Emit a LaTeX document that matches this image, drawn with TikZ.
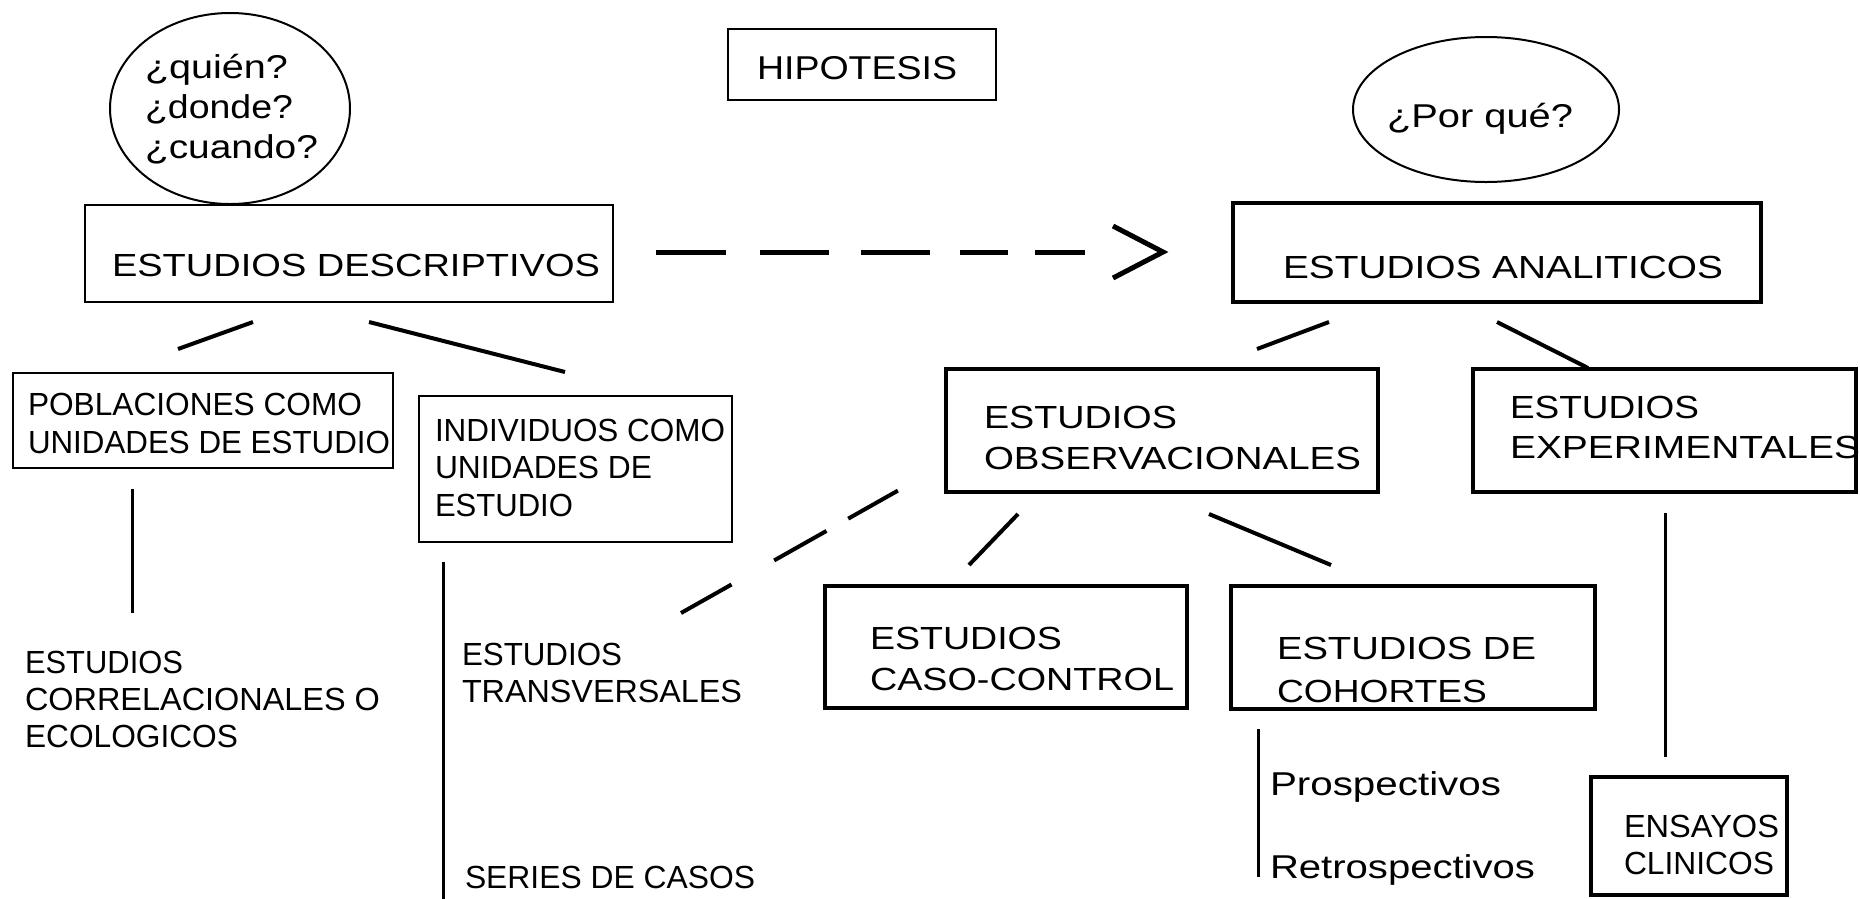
\documentclass[tikz,border=0pt]{standalone}
\usepackage{fontspec}
\setmainfont{Liberation Sans}
\usetikzlibrary{shapes.geometric}
\newcommand\fw[2]{\resizebox{#1pt}{\height}{#2}}
\newcommand\lyne[2]{\hbox{\fw{#1}{#2}}}
\newcommand\blk[2]{\vtop{\baselineskip=#1pt\lineskiplimit=-1000pt\lineskip=0pt #2}}
\begin{document}
\begin{tikzpicture}[x=1pt,y=-1pt,
  thinbox/.style={draw, line width=2.5pt, inner sep=0pt},
  thickbox/.style={draw, line width=4pt, inner sep=0pt},
  oval/.style={ellipse, draw, line width=2pt, inner sep=0pt},
  txt/.style={anchor=base west, inner sep=0pt, outer sep=0pt},
  fa/.style={font=\fontsize{32}{38}\selectfont},
  fb/.style={font=\fontsize{33}{40}\selectfont},
  link/.style={line width=4pt},
  stem/.style={line width=3pt}]
\fill[white] (0,0) rectangle (1860,898);
\useasboundingbox (0,0) rectangle (1860,898);

% ---- shapes
\node[oval, minimum width=240pt, minimum height=191pt] (e1) at (230,108.5) {};
\node[oval, minimum width=266pt, minimum height=145pt] (e2) at (1486,109.5) {};
\node[thinbox, minimum width=268pt, minimum height=71pt] (hip) at (862,64.5) {};
\node[thinbox, minimum width=528pt, minimum height=97pt] (desc) at (349,253.5) {};
\node[thickbox, minimum width=528pt, minimum height=99pt] (anal) at (1497,252.5) {};
\node[thinbox, minimum width=380pt, minimum height=95pt] (pobl) at (203,420.5) {};
\node[thinbox, minimum width=313pt, minimum height=146pt] (indiv) at (575.5,469) {};
\node[thickbox, minimum width=432pt, minimum height=123pt] (obs) at (1162,430.5) {};
\node[thickbox, minimum width=383pt, minimum height=123pt] (exp) at (1664.5,430.5) {};
\node[thickbox, minimum width=362pt, minimum height=122pt] (caso) at (1006,647) {};
\node[thickbox, minimum width=364pt, minimum height=123pt] (coh) at (1413,647.5) {};
\node[thickbox, minimum width=196pt, minimum height=118pt] (ens) at (1689,836) {};

% ---- texts
\node[txt, fb] (t-e1) at (145,78) {\blk{40}{\lyne{143}{¿quién?}\lyne{148}{¿donde?}\lyne{173}{¿cuando?}}};
\node[txt, fb] (t-e2) at (1387,127) {\fw{186}{¿Por qué?}};
\node[txt, fb] (t-hip) at (757,79) {\fw{200}{HIPOTESIS}};
\node[txt, fa] (t-desc) at (112,276) {\fw{488}{ESTUDIOS DESCRIPTIVOS}};
\node[txt, fa] (t-anal) at (1283,278) {\fw{440}{ESTUDIOS ANALITICOS}};
\node[txt, fa] (t-obs) at (984,428) {\blk{41}{\lyne{193}{ESTUDIOS}\lyne{377}{OBSERVACIONALES}}};
\node[txt, fa] (t-exp) at (1510,418) {\blk{40}{\lyne{189}{ESTUDIOS}\lyne{350}{EXPERIMENTALES}}};
\node[txt, fa] (t-caso) at (870,649) {\blk{41}{\lyne{192}{ESTUDIOS}\lyne{304}{CASO-CONTROL}}};
\node[txt, fa] (t-coh) at (1277,659) {\blk{43}{\lyne{259}{ESTUDIOS DE}\lyne{210}{COHORTES}}};
\node[txt, fb] (t-pros) at (1270,795) {\fw{231}{Prospectivos}};
\node[txt, fb] (t-retro) at (1270,878) {\fw{265}{Retrospectivos}};

\node[txt, fa] (t-pobl) at (28,415) {\blk{38}{\lyne{334}{POBLACIONES COMO}\lyne{362}{UNIDADES DE ESTUDIO}}};
\node[txt, fa] (t-indiv) at (435,441) {\blk{37.5}{\lyne{290}{INDIVIDUOS COMO}\lyne{217}{UNIDADES DE}\lyne{138}{ESTUDIO}}};
\node[txt, fa] (t-corr) at (25,673) {\blk{37}{\lyne{158}{ESTUDIOS}\lyne{355}{CORRELACIONALES O}\lyne{213}{ECOLOGICOS}}};
\node[txt, fa] (t-trans) at (462,665) {\blk{37}{\lyne{160}{ESTUDIOS}\lyne{280}{TRANSVERSALES}}};
\node[txt, fa] (t-series) at (465,888) {\fw{290}{SERIES DE CASOS}};
\node[txt, fa] (t-ens) at (1624,837) {\blk{37}{\lyne{155}{ENSAYOS}\lyne{150}{CLINICOS}}};

% ---- connector end points
\coordinate (dl1) at (253,322); \coordinate (dl2) at (178,349);
\coordinate (dr1) at (369,322); \coordinate (dr2) at (565,372);
\coordinate (pv1) at (132,489); \coordinate (pv2) at (132,613);
\coordinate (iv1) at (443,562); \coordinate (iv2) at (443,900);
\coordinate (al1) at (1329,322); \coordinate (al2) at (1257,349);
\coordinate (ar1) at (1497,322); \coordinate (ar2) at (1588,368);
\coordinate (od1) at (681,613); \coordinate (od2) at (899,490);
\coordinate (om1) at (1018,514); \coordinate (om2) at (969,565);
\coordinate (or1) at (1209,514); \coordinate (or2) at (1331,565);
\coordinate (ev1) at (1665,513); \coordinate (ev2) at (1665,757);
\coordinate (cv1) at (1258,729); \coordinate (cv2) at (1258,877);
\coordinate (as) at (656,252); \coordinate (atip) at (1163,252);

% ---- connectors
\draw[link] (dl1) -- (dl2);
\draw[link] (dr1) -- (dr2);
\draw[stem] (pv1) -- (pv2);
\draw[stem] (iv1) -- (iv2);
\draw[link] (al1) -- (al2);
\draw[link] (ar1) -- (ar2);
\draw[link, dash pattern=on 58pt off 49pt on 60pt off 25pt on 57pt off 100pt] (od1) -- (od2);
\draw[link] (om1) -- (om2);
\draw[link] (or1) -- (or2);
\draw[stem] (ev1) -- (ev2);
\draw[stem] (cv1) -- (cv2);
\draw[line width=5pt, dash pattern=on 70pt off 34pt on 69pt off 32pt on 69pt off 30pt on 48pt off 27pt on 50pt off 300pt] (as) -- (atip);
\draw[line width=5pt] (atip) ++(-50,-26) -- (atip) -- ++(-50,26);
\end{tikzpicture}
\end{document}
